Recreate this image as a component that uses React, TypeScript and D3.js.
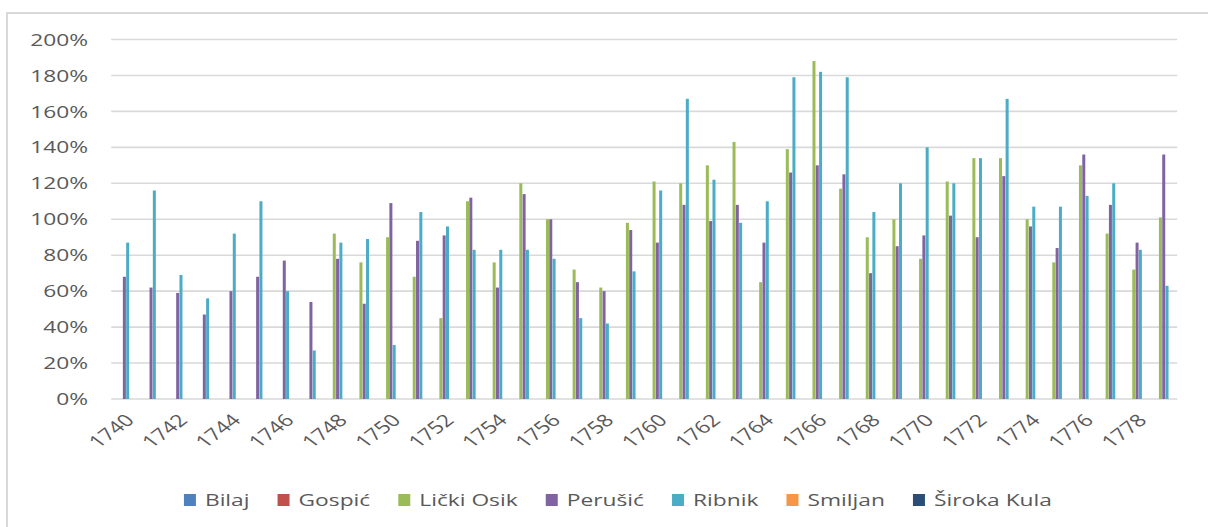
import React, { useMemo } from "react";
import * as d3 from "d3";

const years: string[] = d3.range(1740, 1780).map(String);
const tickYears: string[] = d3.range(1740, 1780, 2).map(String);
const seriesNames: string[] = ["Bilaj", "Gospić", "Lički Osik", "Perušić", "Ribnik", "Smiljan", "Široka Kula"];
const seriesColors: string[] = ["#4F81BD", "#C0504D", "#9BBB59", "#8064A2", "#4BACC6", "#F79646", "#2C4D75"];
const yTicks: number[] = [0, 0.2, 0.4, 0.6, 0.8, 1, 1.2, 1.4, 1.6, 1.8, 2];

// values in % (null = no data)
const bilaj: (number | null)[] = years.map(() => null);
const gospic: (number | null)[] = years.map(() => null);
const lickiOsik: (number | null)[] = [
  null, null, null, null, null, null, null, null, 92, 76,
  90, 68, 45, 110, 76, 120, 100, 72, 62, 98,
  121, 120, 130, 143, 65, 139, 188, 117, 90, 100,
  78, 121, 134, 134, 100, 76, 130, 92, 72, 101,
];
const perusic: (number | null)[] = [
  68, 62, 59, 47, 60, 68, 77, 54, 78, 53,
  109, 88, 91, 112, 62, 114, 100, 65, 60, 94,
  87, 108, 99, 108, 87, 126, 130, 125, 70, 85,
  91, 102, 90, 124, 96, 84, 136, 108, 87, 136,
];
const ribnik: (number | null)[] = [
  87, 116, 69, 56, 92, 110, 60, 27, 87, 89,
  30, 104, 96, 83, 83, 83, 78, 45, 42, 71,
  116, 167, 122, 98, 110, 179, 182, 179, 104, 120,
  140, 120, 134, 167, 107, 107, 113, 120, 83, 63,
];
const smiljan: (number | null)[] = years.map(() => null);
const sirokaKula: (number | null)[] = years.map(() => null);

const seriesValues = [bilaj, gospic, lickiOsik, perusic, ribnik, smiljan, sirokaKula];

const W = 1208;
const H = 527;
const FONT = "'Open Sans', sans-serif";
const FS = 17;
const STRETCH = 1.34;
const TEXT = "#595959";
const GRID = "#D9D9D9";

function measure(s: string): number {
  const c = document.createElement("canvas").getContext("2d");
  if (!c) return s.length * 9;
  c.font = `${FS}px 'Open Sans'`;
  return c.measureText(s).width * STRETCH;
}

export default function App() {
  const x0 = d3.scaleBand<string>().domain(years).range([111.2, 1177.2]).padding(0);
  const bw = x0.bandwidth();
  const x1 = d3
    .scaleBand<string>()
    .domain(seriesNames)
    .range([bw * 0.066, bw * 0.934])
    .padding(0);
  const y = d3.scaleLinear().domain([0, 2]).range([399, 39.5]);

  const legend = useMemo(() => {
    const marker = 12;
    const gapText = 9;
    const gapItem = 28;
    const widths = seriesNames.map((n) => measure(n));
    const total =
      d3.sum(widths) + seriesNames.length * (marker + gapText) + (seriesNames.length - 1) * gapItem;
    let cur = 618 - total / 2;
    return seriesNames.map((n, i) => {
      const item = { name: n, color: seriesColors[i], x: cur, marker };
      cur += marker + gapText + widths[i] + gapItem;
      return item;
    });
  }, []);

  return (
    <svg
      width={W}
      height={H}
      style={{ position: "absolute", left: 0, top: 0, background: "#fff" }}
      fontFamily={FONT}
    >
      <rect x={7} y={13} width={W + 20} height={H + 20} fill="#fff" stroke={GRID} strokeWidth={2} />
      {yTicks.map((t) => (
        <g key={t}>
          <line x1={111.2} x2={1177.2} y1={y(t)} y2={y(t)} stroke={GRID} strokeWidth={1.6} />
          <text
            transform={`translate(88,${y(t)}) scale(${STRETCH},1)`}
            textAnchor="end"
            dy="0.36em"
            fontSize={FS}
            fill={TEXT}
          >
            {d3.format(".0%")(t)}
          </text>
        </g>
      ))}
      {seriesValues.map((vals, si) =>
        vals.map((v, i) =>
          v == null ? null : (
            <rect
              key={`${si}-${i}`}
              x={(x0(years[i]) as number) + (x1(seriesNames[si]) as number)}
              y={y(v / 100)}
              width={x1.bandwidth() - 0.3}
              height={y(0) - y(v / 100)}
              fill={seriesColors[si]}
            />
          )
        )
      )}
      {tickYears.map((yr) => {
        const cx = (x0(yr) as number) + bw / 2;
        return (
          <text
            key={yr}
            transform={`translate(${cx + 5},${417}) scale(${STRETCH},1) rotate(-45)`}
            textAnchor="end"
            dy="0.36em"
            fontSize={FS}
            fill={TEXT}
          >
            {yr}
          </text>
        );
      })}
      {legend.map((l) => (
        <g key={l.name}>
          <rect x={l.x} y={494} width={l.marker} height={12} fill={l.color} />
          <text
            transform={`translate(${l.x + l.marker + 9},500) scale(${STRETCH},1)`}
            dy="0.36em"
            fontSize={FS}
            fill={TEXT}
          >
            {l.name}
          </text>
        </g>
      ))}
    </svg>
  );
}
